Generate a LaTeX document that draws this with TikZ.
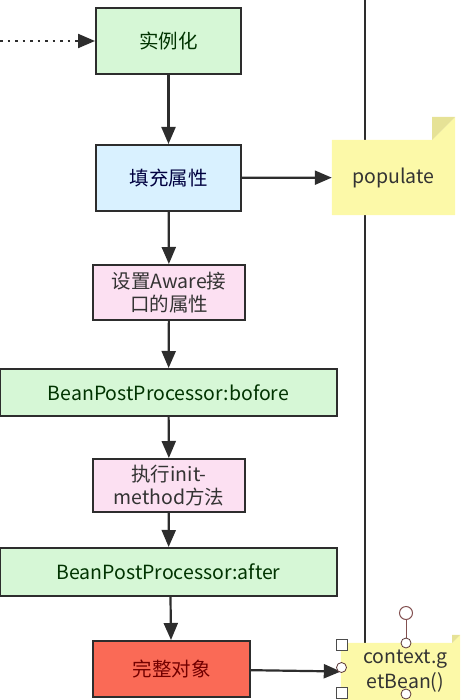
\documentclass[tikz,border=0pt]{standalone}
\usepackage{fontspec}
\setmainfont{Noto Sans CJK SC}
\usetikzlibrary{arrows.meta}
\definecolor{stepgreen}{RGB}{214,247,214}
\definecolor{stepblue}{RGB}{217,241,255}
\definecolor{steppink}{RGB}{252,224,242}
\definecolor{stepred}{RGB}{250,106,86}
\definecolor{noteyellow}{RGB}{252,249,168}
\definecolor{notefold}{RGB}{230,226,150}
\definecolor{edgegray}{RGB}{45,45,45}
\definecolor{handle}{RGB}{130,80,80}
\tikzset{>={Triangle[length=17pt,width=14pt]}}
\tikzset{%
    stepbox/.style={%
        draw=edgegray, line width=2pt, align=center, inner sep=0pt,
        font=\fontsize{19.5}{23}\selectfont
    },
    notebox/.style={%
        draw=none, inner sep=0pt, align=center,
        font=\fontsize{19.5}{25}\selectfont, text=black!80
    },
    flow/.style={->, draw=edgegray, line width=2.2pt}
}

\begin{document}
\begin{tikzpicture}[x=1pt,y=-1pt]
\useasboundingbox (0,0) rectangle (460,700);
% timeline on the right
\draw[edgegray, line width=2pt] (365,0) -- (365,700);
% steps
\node[stepbox, fill=stepgreen, text=green!20!black, minimum width=145pt, minimum height=66pt] (inst) at (168.5,41) {实例化};
\node[stepbox, fill=stepblue, text=blue!25!black, minimum width=145pt, minimum height=66pt] (fill) at (168.5,178) {填充属性};
\node[stepbox, fill=steppink, text=black!80, minimum width=152pt, minimum height=55pt] (aware) at (169,292.5) {设置Aware接\\口的属性};
\node[stepbox, fill=stepgreen, text=green!20!black, minimum width=337pt, minimum height=47pt] (before) at (168.5,392.5) {BeanPostProcessor:bofore};
\node[stepbox, fill=steppink, text=black!80, minimum width=152pt, minimum height=53pt] (init) at (169,485.5) {执行init-\\method方法};
\node[stepbox, fill=stepgreen, text=green!20!black, minimum width=337pt, minimum height=48pt] (after) at (168.5,572) {BeanPostProcessor:after};
\node[stepbox, fill=stepred, text=red!45!black, minimum width=157pt, minimum height=56pt] (done) at (171.5,669) {完整对象};
% notes
\node[notebox, minimum width=123pt, minimum height=75pt] (pop) at (393.5,177.5) {};
\fill[noteyellow] (pop.south west) -- (pop.north west) -- ([xshift=-23pt]pop.north east) -- ([yshift=23pt]pop.north east) -- (pop.south east) -- cycle;
\fill[notefold] ([xshift=-23pt]pop.north east) -- ([xshift=-23pt,yshift=23pt]pop.north east) -- ([yshift=23pt]pop.north east) -- cycle;
\node[notebox] at (pop) {populate};
\node[notebox, minimum width=119pt, minimum height=57pt] (bean) at (400.5,671.5) {};
\fill[noteyellow] (bean.south west) -- (bean.north west) -- ([xshift=-8pt]bean.north east) -- ([yshift=8pt]bean.north east) -- (bean.south east) -- cycle;
\fill[notefold] ([xshift=-8pt]bean.north east) -- ([xshift=-8pt,yshift=8pt]bean.north east) -- ([yshift=8pt]bean.north east) -- cycle;
\node[notebox, text width=100pt] at ([xshift=5pt]bean.center) {context.g\\etBean()};
% connectors
\coordinate (src) at (0,41);
\draw[flow, dash pattern=on 2.5pt off 5pt] (src) -- (inst.west);
\draw[flow] (inst) -- (fill);
\draw[flow] (fill) -- (pop);
\draw[flow] (fill) -- (aware);
\draw[flow] (aware) -- (before);
\draw[flow] (before) -- (init);
\draw[flow] (init) -- (after);
\draw[flow] ([xshift=2pt]after.south) -- ([xshift=-0.5pt]done.north);
\draw[flow] (done) -- (bean.west);
% selection handles
\coordinate (rot) at (406,613);
\coordinate (top) at (406,643);
\draw[handle, line width=1pt] (rot) -- (top);
\draw[handle, fill=white, line width=1pt] (rot) circle (6.5pt);
\foreach \p in {(341.5,667.5),(406,643),(406,694)}
    \draw[handle!70!black, fill=white, line width=0.8pt] \p circle (5pt);
\foreach \q in {639,687}
    \draw[black!70, fill=white, line width=0.8pt] (336,\q) rectangle (347,\q+11);
\end{tikzpicture}
\end{document}
